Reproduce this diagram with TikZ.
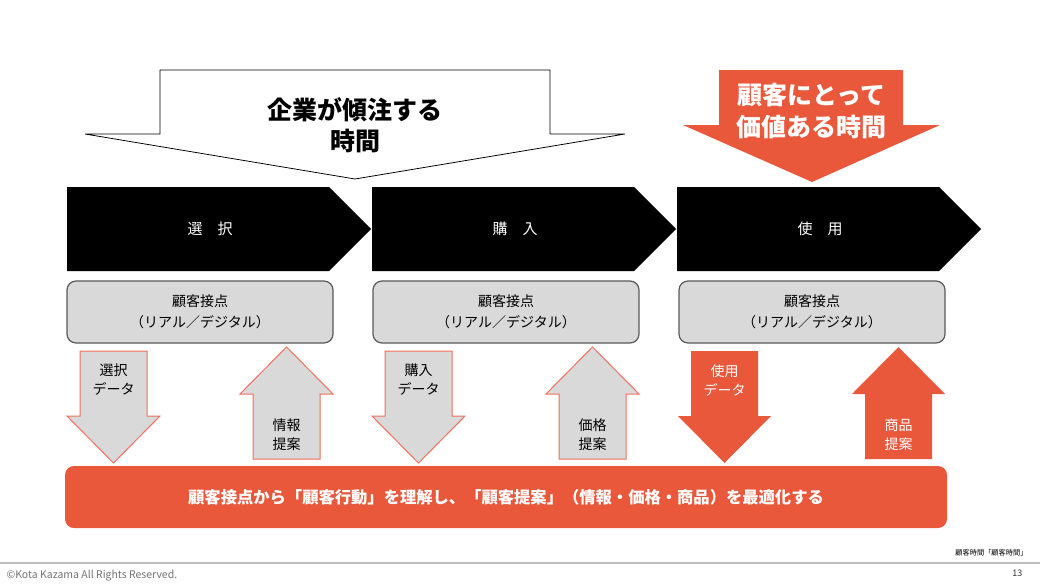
\documentclass[tikz,border=0pt]{standalone}
\usepackage{fontspec}
\setmainfont{Noto Sans CJK JP}
\usetikzlibrary{positioning}
\definecolor{kkred}{RGB}{234,88,60}
\definecolor{kkgray}{RGB}{217,217,217}
\definecolor{kkline}{RGB}{89,89,89}
\definecolor{kksalmon}{RGB}{240,112,92}

\begin{document}
\begin{tikzpicture}[x=1pt, y=-1pt,
    chevron/.style={fill=black},
    chevlabel/.style={text=white, font=\fontsize{15}{18}\selectfont},
    touchbox/.style={draw=kkline, line width=1.2pt, fill=kkgray, rounded corners=9pt,
                     minimum width=266pt, minimum height=62pt, align=center,
                     font=\fontsize{14}{21}\selectfont},
    grayarrow/.style={draw=kksalmon, line width=1pt, fill=kkgray},
    redarrow/.style={fill=kkred},
    arrowlabel/.style={align=center, font=\fontsize{14}{19}\selectfont}]

    \useasboundingbox[fill=white] (0,0) rectangle (1040,584);

    % Company arrow (outline)
    \draw[line width=0.8pt, fill=white] (160,70) -- (550,70) -- (550,134) -- (625,134)
      -- (355,179) -- (85,134) -- (160,134) -- cycle;
    \node[font=\bfseries\fontsize{25}{31}\selectfont, align=center] (focus) at (355,125)
      {企業が傾注する\\時間};

    % Customer arrow (red)
    \fill[kkred] (719,70) -- (903,70) -- (903,125) -- (940,125) -- (812,182)
      -- (683,125) -- (719,125) -- cycle;
    \node[text=white, font=\bfseries\fontsize{25}{32}\selectfont, align=center] (value)
      at (811,111) {顧客にとって\\価値ある時間};

    % Stages
    \foreach \x/\lab [count=\i] in {67/選　択, 372/購　入, 677/使　用} {
      \fill[chevron] (\x,187) -- ++(262,0) -- ++(42,42) -- ++(-42,42) -- ++(-262,0) -- cycle;
      \node[chevlabel] (stage\i) at (\x+143,229) {\lab};
    }

    % Touch points
    \foreach \x [count=\i] in {200,506,812}
      \node[touchbox] (touch\i) at (\x,312) {顧客接点\\（リアル／デジタル）};

    % Data arrows (down)
    \foreach \x/\sty/\col/\lab [count=\i] in {80/grayarrow/black/選択, 385/grayarrow/black/購入,
                                              691/redarrow/white/使用} {
      \path[\sty] (\x,351) -- ++(67,0) -- ++(0,65) -- ++(13,0) -- ++(-46.5,47)
        -- ++(-46.5,-47) -- ++(13,0) -- cycle;
      \node[arrowlabel, text=\col] (data\i) at (\x+33.5,380) {\lab\\データ};
    }

    % Proposal arrows (up)
    \foreach \x/\sty/\col/\lab [count=\i] in {253/grayarrow/black/情報, 559/grayarrow/black/価格,
                                              865/redarrow/white/商品} {
      \path[\sty] (\x,459) -- ++(67,0) -- ++(0,-65) -- ++(13,0) -- ++(-46.5,-47)
        -- ++(-46.5,47) -- ++(13,0) -- cycle;
      \node[arrowlabel, text=\col] (offer\i) at (\x+33.5,435) {\lab\\提案};
    }

    % Summary bar
    \node[fill=kkred, rounded corners=9pt, minimum width=882pt, minimum height=62pt,
          text=white, font=\bfseries\fontsize{16.3}{19}\selectfont] (summary) at (506,497)
      {顧客接点から「顧客行動」を理解し、「顧客提案」（情報・価格・商品）を最適化する};

    % Footer
    \draw[black!25, line width=1.5pt] (0,563) -- (1040,563);
    \node[anchor=east, font=\fontsize{7.2}{8}\selectfont] (source) at (1031,553)
      {顧客時間「顧客時間」};
    \node[anchor=west, text=black!55, font=\fontsize{10.5}{12}\selectfont] (copyright)
      at (3,576) {©Kota Kazama All Rights Reserved.};
    \node[anchor=east, text=black!80, font=\fontsize{9}{10}\selectfont] (page)
      at (1026,573) {13};

\end{tikzpicture}
\end{document}
